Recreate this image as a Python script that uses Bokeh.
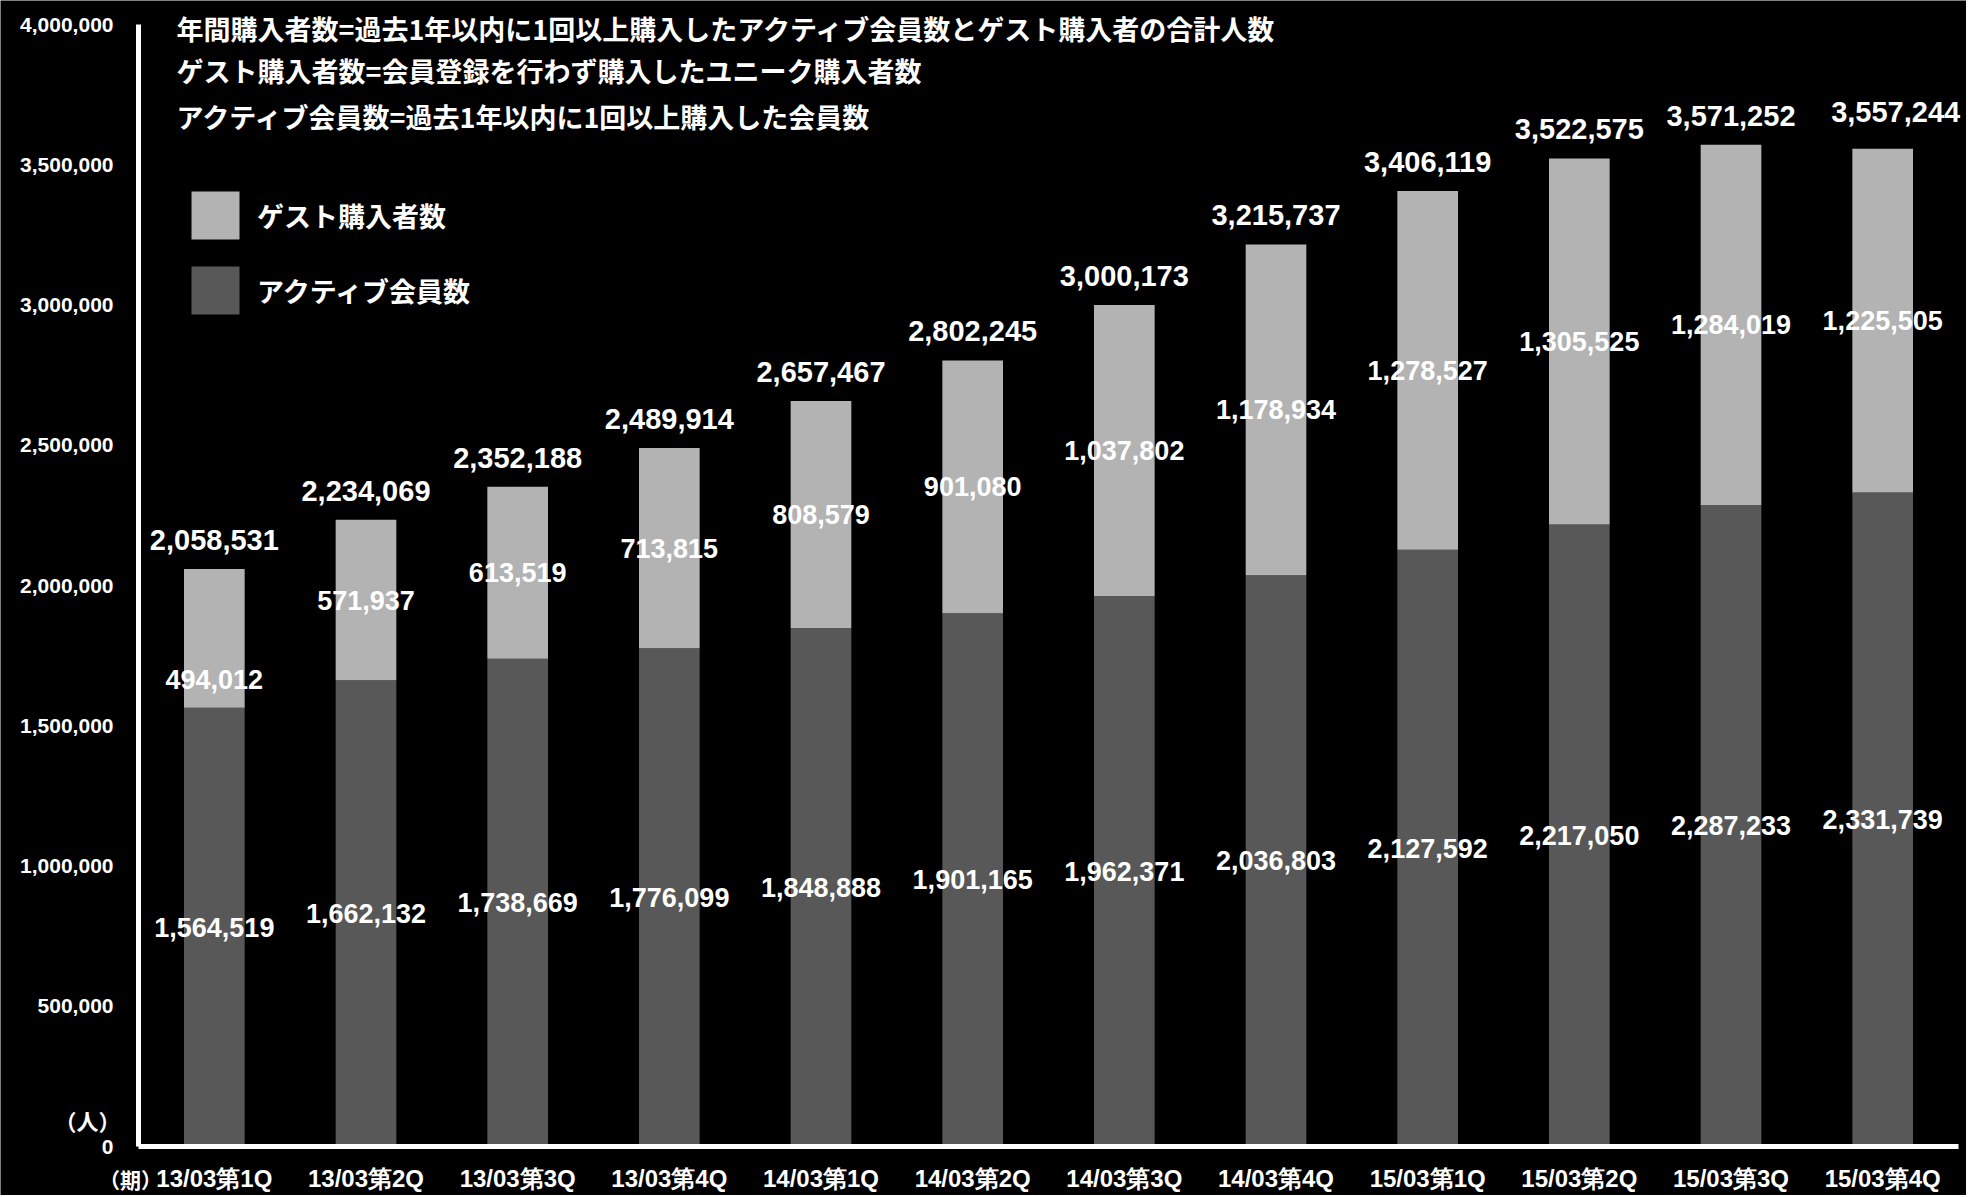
from bokeh.plotting import figure
from bokeh.models import (Range1d, FixedTicker, NumeralTickFormatter,
                          ColumnDataSource, Label, Legend, LegendItem)
from bokeh.core.properties import value
from bokeh.embed import file_html
from bokeh.resources import INLINE

# ---------------- data ----------------
quarters = ["13/03第1Q", "13/03第2Q", "13/03第3Q", "13/03第4Q",
            "14/03第1Q", "14/03第2Q", "14/03第3Q", "14/03第4Q",
            "15/03第1Q", "15/03第2Q", "15/03第3Q", "15/03第4Q"]
active = [1564519, 1662132, 1738669, 1776099, 1848888, 1901165,
          1962371, 2036803, 2127592, 2217050, 2287233, 2331739]
guest = [494012, 571937, 613519, 713815, 808579, 901080,
         1037802, 1178934, 1278527, 1305525, 1284019, 1225505]
total = [2058531, 2234069, 2352188, 2489914, 2657467, 2802245,
         3000173, 3215737, 3406119, 3522575, 3571252, 3557244]
y_ticks = [0, 500000, 1000000, 1500000, 2000000, 2500000, 3000000, 3500000, 4000000]
series_names = ["アクティブ会員数", "ゲスト購入者数"]
notes = ["年間購入者数=過去1年以内に1回以上購入したアクティブ会員数とゲスト購入者の合計人数",
         "ゲスト購入者数=会員登録を行わず購入したユニーク購入者数",
         "アクティブ会員数=過去1年以内に1回以上購入した会員数"]
# pixel nudges of some value labels, as in the original
guest_label_shift = [41, 0, 0, 0, 0, 0, 0, 0, 0, 0, 0, 0]
total_label_dx = [0, 0, 0, 0, 0, 0, 0, 0, 0, 0, 0, 13]
total_label_dy = [-29, -29, -29, -29, -29, -29, -29, -29, -29, -29, -29, -37]

DARK = "#585858"
LIGHT = "#b3b3b3"
NUM_FONT = "Liberation Sans"
JP_FONT = "Noto Sans CJK JP"

W, H = 1966, 1195
# geometry of the value area inside the canvas (pixels)
X0_PX, PX_PER_CAT = 138.0, 1820.0 / 12
Y0_PX, PX_PER_UNIT = 1146.0, 1122.0 / 4000000

xpos = [i + 0.5 for i in range(len(quarters))]

src = ColumnDataSource(dict(
    x=xpos, q=quarters, active=active, guest=guest, total=total,
    total_txt=[f"{v:,}" for v in total],
    active_txt=[f"{v:,}" for v in active],
    guest_txt=[f"{v:,}" for v in guest],
    active_mid=[a / 2 for a in active],
    guest_mid=[a + g / 2 for a, g in zip(active, guest)],
    gshift=guest_label_shift, tdx=total_label_dx, tdy=total_label_dy,
))

p = figure(x_range=Range1d(-X0_PX / PX_PER_CAT, (W - X0_PX) / PX_PER_CAT),
           y_range=Range1d(-(H - Y0_PX) / PX_PER_UNIT, Y0_PX / PX_PER_UNIT),
           width=W, height=H, output_backend="svg", toolbar_location=None,
           title=None, min_border=0,
           background_fill_color="black", border_fill_color="black",
           outline_line_color=None)

rs = p.vbar_stack(["active", "guest"], x="x", width=0.4, source=src,
                  fill_color=[DARK, LIGHT], line_color=None)

# value labels
p.text(x="x", y="total", text="total_txt", source=src, text_align="center",
       text_baseline="middle", x_offset="tdx", y_offset="tdy", text_font=value(NUM_FONT),
       text_font_style="bold", text_font_size="29px", text_color="white")
p.text(x="x", y="guest_mid", text="guest_txt", source=src, text_align="center",
       text_baseline="middle", y_offset="gshift", text_font=value(NUM_FONT),
       text_font_style="bold", text_font_size="27px", text_color="white")
p.text(x="x", y="active_mid", text="active_txt", source=src, text_align="center",
       text_baseline="middle", text_font=value(NUM_FONT),
       text_font_style="bold", text_font_size="27px", text_color="white")

# axes (placed at the data origin)
p.xgrid.visible = False
p.ygrid.visible = False
for ax in (p.xaxis[0], p.yaxis[0]):
    ax.fixed_location = 0
    ax.axis_line_color = "white"
    ax.axis_line_width = 5
    ax.major_tick_line_color = None
    ax.minor_tick_line_color = None
    ax.major_tick_out = 0
    ax.major_tick_in = 0
    ax.major_label_text_color = "white"
    ax.major_label_text_font_style = "bold"

p.yaxis.bounds = (0, 4000000)
p.yaxis.ticker = FixedTicker(ticks=y_ticks)
p.yaxis.formatter = NumeralTickFormatter(format="0,0")
p.yaxis.major_label_text_font = NUM_FONT
p.yaxis.major_label_text_font_size = "21px"
p.yaxis.major_label_standoff = 25

p.xaxis.bounds = (0, len(quarters))
p.xaxis.ticker = FixedTicker(ticks=xpos)
p.xaxis.major_label_overrides = {xv: q for xv, q in zip(xpos, quarters)}
p.xaxis.major_label_text_font = NUM_FONT
p.xaxis.major_label_text_font_size = "24px"
p.xaxis.major_label_standoff = 18

# notes at top
for txt, ypx in zip(notes, [28, 70, 116]):
    p.add_layout(Label(x=38 / PX_PER_CAT, y=(Y0_PX - ypx) / PX_PER_UNIT, text=txt,
                       text_font=JP_FONT, text_font_style="bold",
                       text_font_size="27px", text_color="white", text_baseline="middle"))

# unit labels
p.add_layout(Label(x=(87 - X0_PX) / PX_PER_CAT, y=(Y0_PX - 1119) / PX_PER_UNIT, text="（人）",
                   text_font=JP_FONT, text_font_style="bold", text_font_size="22px",
                   text_color="white", text_baseline="middle", text_align="center"))
p.add_layout(Label(x=(130 - X0_PX) / PX_PER_CAT, y=(Y0_PX - 1178) / PX_PER_UNIT, text="（期）",
                   text_font=JP_FONT, text_font_style="bold", text_font_size="21px",
                   text_color="white", text_baseline="middle", text_align="center"))

legend = Legend(items=[LegendItem(label=series_names[1], renderers=[rs[1]]),
                       LegendItem(label=series_names[0], renderers=[rs[0]])],
                location=(185, H - 320), glyph_width=60, glyph_height=60, label_height=60,
                label_standoff=12, spacing=15, padding=0, margin=0,
                border_line_color=None, background_fill_alpha=0,
                label_text_font=JP_FONT, label_text_font_style="bold",
                label_text_font_size="27px", label_text_color="white")
p.add_layout(legend)

open("out.html", "w").write(file_html(p, INLINE))
